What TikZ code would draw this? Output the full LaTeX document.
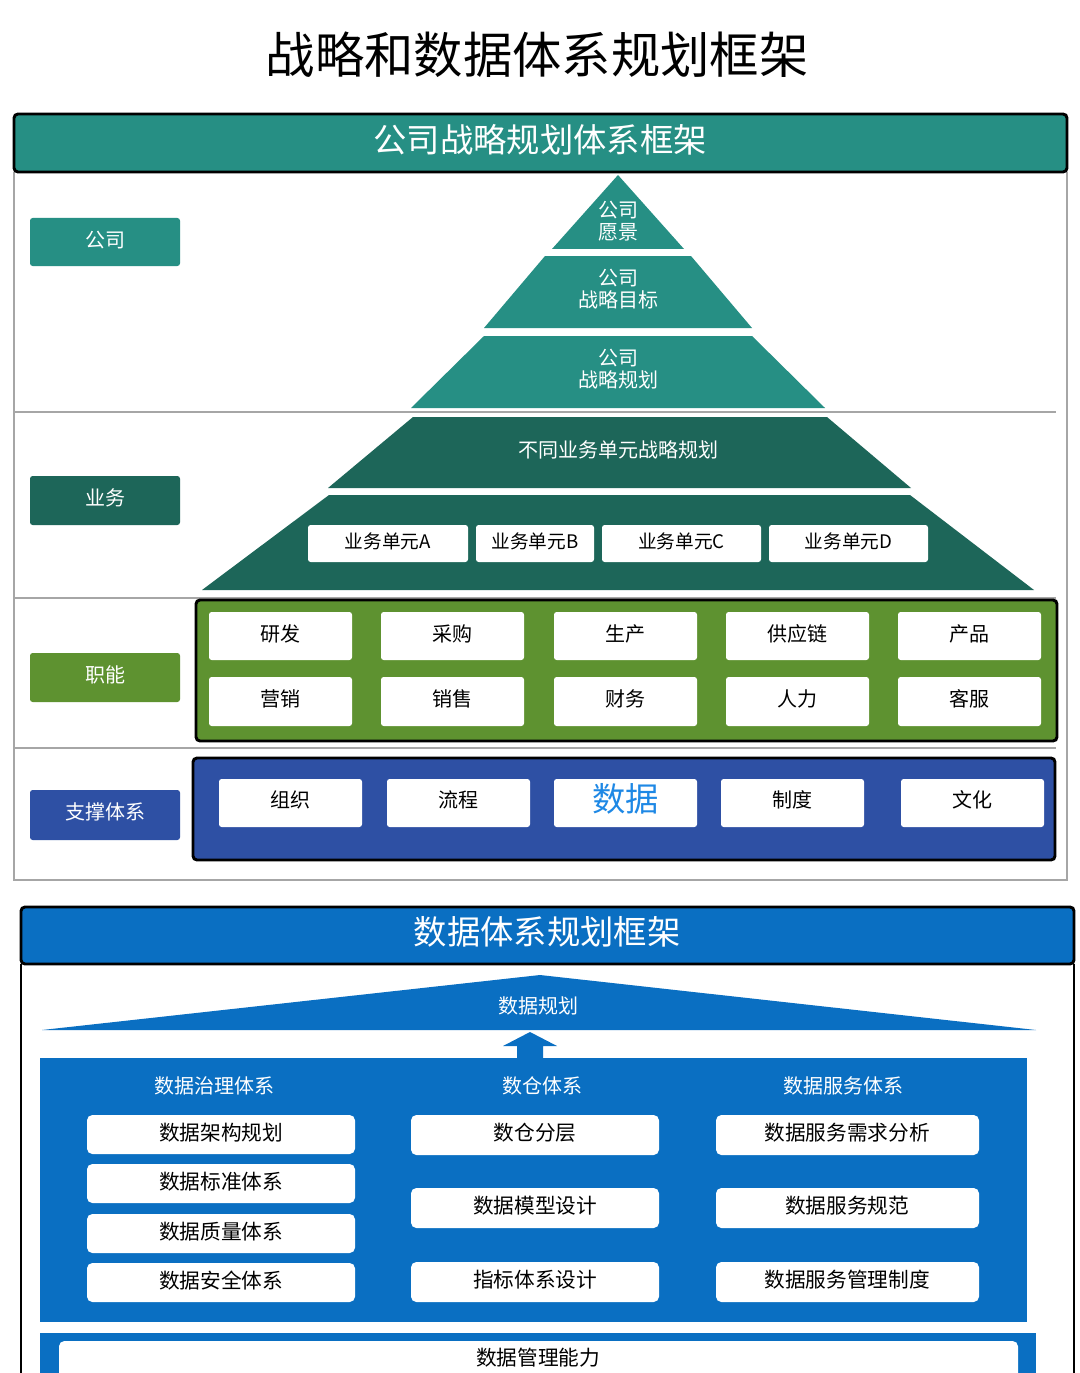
\documentclass[tikz,border=0pt]{standalone}
\usepackage{fontspec}
\setmainfont{Noto Sans CJK SC}
\definecolor{teal1}{HTML}{268F84}
\definecolor{teal2}{HTML}{1D6659}
\definecolor{grn}{HTML}{5E9230}
\definecolor{navy}{HTML}{2E50A4}
\definecolor{blu}{HTML}{0A6FC2}
\definecolor{blutxt}{HTML}{1E88E5}
\begin{document}
\begin{tikzpicture}[x=0.75pt,y=-0.75pt,
  lbl/.style={rounded corners=2pt,text=white,font=\fontsize{15}{15}\selectfont},
  wbox/.style={fill=white,rounded corners=3pt,font=\fontsize{15}{15}\selectfont},
  bar/.style={draw=black,line width=2.2pt,rounded corners=3pt},
  tw/.style={text=white,align=center,font=\fontsize{15}{18}\selectfont}]
\useasboundingbox (0,0) rectangle (1080,1373);
\fill[white] (0,0) rectangle (1080,1373);
\node (title) at (537,55) {\fontsize{37}{37}\selectfont 战略和数据体系规划框架};
% ===== top part
\draw[gray!70,line width=0.8pt] (14,172) -- (14,880) -- (1067,880) -- (1067,172);
\foreach \y in {412,598,748} \draw[gray!70,line width=0.8pt] (14,\y) -- (1056,\y);
\filldraw[fill=teal1,bar] (14,114) rectangle (1067,172);
\node[text=white] (h1) at (540,140) {\fontsize{25}{25}\selectfont 公司战略规划体系框架};
% left labels
\fill[teal1,rounded corners=2pt] (30,218) rectangle (180,266);
\node[lbl] (l1) at (105,240) {公司};
\fill[teal2,rounded corners=2pt] (30,476) rectangle (180,525);
\node[lbl] (l2) at (105,498) {业务};
\fill[grn,rounded corners=2pt] (30,653) rectangle (180,702);
\node[lbl] (l3) at (105,675) {职能};
\fill[navy,rounded corners=2pt] (30,790) rectangle (180,840);
\node[lbl] (l4) at (105,812) {支撑体系};
% pyramid upper
\fill[teal1] (618,175) -- (684,249) -- (552,249) -- cycle;
\fill[teal1] (545,256) -- (691,256) -- (752,328) -- (484,328) -- cycle;
\fill[teal1] (484,336) -- (752,336) -- (825,408) -- (411,408) -- cycle;
\node[tw] (p1) at (618,221) {公司\\[-2pt]愿景};
\node[tw] (p2) at (618,289) {公司\\[-2pt]战略目标};
\node[tw] (p3) at (618,369) {公司\\[-2pt]战略规划};
% pyramid lower
\fill[teal2] (413,417) -- (827,417) -- (911,488) -- (328,488) -- cycle;
\fill[teal2] (329,495) -- (910,495) -- (1034,590) -- (202,590) -- cycle;
\node[tw] (p4) at (618,450) {不同业务单元战略规划};
\foreach \a/\b/\t/\n in {308/468/业务单元A/ua,476/594/业务单元B/ub,602/761/业务单元C/uc,769/928/业务单元D/ud}{
  \fill[white,rounded corners=2pt] (\a,525) rectangle (\b,562);
  \node[font=\fontsize{14}{14}\selectfont] (\n) at ({(\a+\b)/2},541) {\t};}
% functions
\filldraw[fill=grn,bar] (196,600) rectangle (1057,741);
\foreach \a/\t/\u/\n in {209/研发/营销/f1,381/采购/销售/f2,554/生产/财务/f3,726/供应链/人力/f4,898/产品/客服/f5}{
  \fill[white,rounded corners=2pt] (\a,612) rectangle ({\a+143},660);
  \node[font=\fontsize{15}{15}\selectfont] (\n a) at ({\a+71.5},634) {\t};
  \fill[white,rounded corners=2pt] (\a,677) rectangle ({\a+143},726);
  \node[font=\fontsize{15}{15}\selectfont] (\n b) at ({\a+71.5},699) {\u};}
% support
\filldraw[fill=navy,bar] (193,758) rectangle (1055,860);
\foreach \a/\t/\n in {219/组织/s1,387/流程/s2,721/制度/s4,901/文化/s5}{
  \fill[white,rounded corners=2pt] (\a,779) rectangle ({\a+143},827);
  \node[font=\fontsize{15}{15}\selectfont] (\n) at ({\a+71.5},800) {\t};}
\fill[white,rounded corners=2pt] (554,779) rectangle (697,827);
\node[text=blutxt,font=\fontsize{25}{25}\selectfont] (s3) at (625.5,799) {数据};
% ===== bottom part
\draw[black,line width=1.4pt] (21,964) -- (21,1373);
\draw[black,line width=1.4pt] (1074,964) -- (1074,1373);
\filldraw[fill=blu,bar] (21,907) rectangle (1074,964);
\node[text=white] (h2) at (547,932) {\fontsize{25}{25}\selectfont 数据体系规划框架};
\fill[blu] (540,975) -- (1036,1030) -- (42,1030) -- cycle;
\node[tw] (roof) at (538,1006) {数据规划};
\fill[blu] (40,1058) rectangle (1027,1322);
\fill[blu] (517,1058) -- (517,1046) -- (503,1046) -- (530,1032) -- (557,1046) -- (543,1046) -- (543,1058) -- cycle;
\node[tw] (c1) at (214,1086) {数据治理体系};
\node[tw] (c2) at (542,1086) {数仓体系};
\node[tw] (c3) at (843,1086) {数据服务体系};
\foreach \y/\t/\n in {1115/数据架构规划/g1,1164/数据标准体系/g2,1214/数据质量体系/g3,1263/数据安全体系/g4}{
  \fill[white,rounded corners=4pt] (87,\y) rectangle (355,{\y+39});
  \node[font=\fontsize{15.5}{15.5}\selectfont] (\n) at (221,{\y+18}) {\t};}
\foreach \y/\t/\u/\n in {1115/数仓分层/数据服务需求分析/m1,1188/数据模型设计/数据服务规范/m2,1262/指标体系设计/数据服务管理制度/m3}{
  \fill[white,rounded corners=4pt] (411,\y) rectangle (659,{\y+40});
  \node[font=\fontsize{15.5}{15.5}\selectfont] (\n a) at (535,{\y+18}) {\t};
  \fill[white,rounded corners=4pt] (716,\y) rectangle (979,{\y+40});
  \node[font=\fontsize{15.5}{15.5}\selectfont] (\n b) at (847,{\y+18}) {\u};}
\fill[blu] (40,1333) rectangle (1036,1373);
\fill[white,rounded corners=4pt] (59,1341) rectangle (1018,1385);
\node[font=\fontsize{15.5}{15.5}\selectfont] (dm) at (538,1358) {数据管理能力};
\end{tikzpicture}
\end{document}
